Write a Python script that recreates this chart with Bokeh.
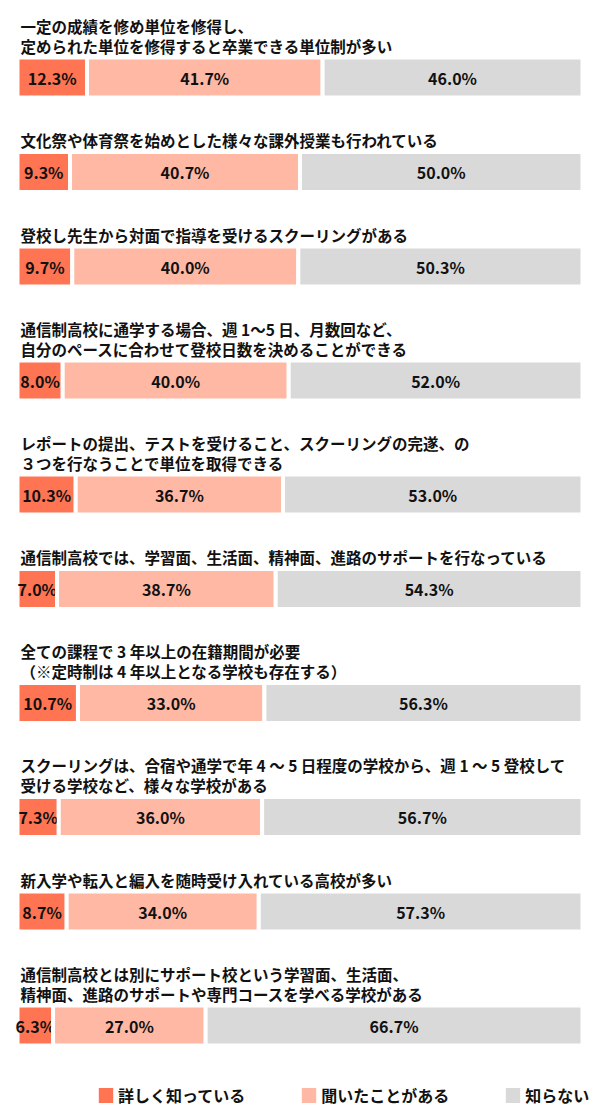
from bokeh.plotting import figure
from bokeh.models import Range1d, ColumnDataSource, Legend, LegendItem
from bokeh.core.properties import value
from bokeh.embed import file_html
from bokeh.resources import INLINE

# ---- data ----
titles = [
    ["一定の成績を修め単位を修得し、", "定められた単位を修得すると卒業できる単位制が多い"],
    ["文化祭や体育祭を始めとした様々な課外授業も行われている"],
    ["登校し先生から対面で指導を受けるスクーリングがある"],
    ["通信制高校に通学する場合、週 1～5 日、月数回など、", "自分のペースに合わせて登校日数を決めることができる"],
    ["レポートの提出、テストを受けること、スクーリングの完遂、の", "３つを行なうことで単位を取得できる"],
    ["通信制高校では、学習面、生活面、精神面、進路のサポートを行なっている"],
    ["全ての課程で 3 年以上の在籍期間が必要", "（※定時制は 4 年以上となる学校も存在する）"],
    ["スクーリングは、合宿や通学で年 4 ～ 5 日程度の学校から、週 1 ～ 5 登校して", "受ける学校など、様々な学校がある"],
    ["新入学や転入と編入を随時受け入れている高校が多い"],
    ["通信制高校とは別にサポート校という学習面、生活面、", "精神面、進路のサポートや専門コースを学べる学校がある"],
]
series_names = ["詳しく知っている", "聞いたことがある", "知らない"]
known = [12.3, 9.3, 9.7, 8.0, 10.3, 7.0, 10.7, 7.3, 8.7, 6.3]
heard = [41.7, 40.7, 40.0, 40.0, 36.7, 38.7, 33.0, 36.0, 34.0, 27.0]
unknown = [46.0, 50.0, 50.3, 52.0, 53.0, 54.3, 56.3, 56.7, 57.3, 66.7]
colors = ["#FF7452", "#FFB8A4", "#D9D9D9"]

# ---- layout (pixel units on y) ----
W, H = 600, 1120
X0_PX, PX_PER_PCT = 17, 5.65
BAR_H = 36
STROKE = 4
FIRST_TOP = 59
BASE_PITCH = 75
LINE_H = 20
TITLE_GAP = 14

tops = []
for i, t in enumerate(titles):
    if i == 0:
        tops.append(FIRST_TOP)
    else:
        tops.append(tops[-1] + BASE_PITCH + 19.5 * len(t))
centers = [t + BAR_H / 2 for t in tops]

p = figure(width=W, height=H,
           x_range=Range1d(-X0_PX / PX_PER_PCT, (W - X0_PX) / PX_PER_PCT),
           y_range=Range1d(H, 0),
           x_axis_type=None, y_axis_type=None,
           output_backend="svg", toolbar_location=None, min_border=0)
p.grid.visible = False
p.outline_line_color = None
p.background_fill_color = "white"
p.border_fill_color = "white"

vals = [known, heard, unknown]
left = [0.0] * len(known)
renderers = []
for s, (v, c) in enumerate(zip(vals, colors)):
    right = [l + x for l, x in zip(left, v)]
    mid = [(l + r) / 2 for l, r in zip(left, right)]
    src = ColumnDataSource(dict(y=centers, left=left, right=right, mid=mid,
                                lab=[f"{x:.1f}%" for x in v]))
    r = p.hbar(y="y", left="left", right="right", height=BAR_H + STROKE, source=src,
               fill_color=c, line_color="white", line_width=STROKE)
    renderers.append(r)
    p.text(x="mid", y="y", text="lab", source=src, text_align="center",
           text_baseline="middle", text_color="#111111",
           text_font=value("Noto Sans CJK JP"), text_font_style="bold",
           text_font_size="16px")
    left = right

# titles
tx, ty, tt = [], [], []
for i, t in enumerate(titles):
    n = len(t)
    for k, line in enumerate(t):
        tx.append(0)
        ty.append(tops[i] - TITLE_GAP - LINE_H * (n - 1 - k))
        tt.append(line)
p.text(x=tx, y=ty, text=tt, x_offset=3, text_align="left", text_baseline="middle",
       text_color="#111111", text_font=value("Noto Sans CJK JP"),
       text_font_style="bold", text_font_size="15.5px")

legend = Legend(items=[LegendItem(label=n, renderers=[r]) for n, r in zip(series_names, renderers)],
                orientation="horizontal", location=(94, 13),
                glyph_width=23, glyph_height=24, label_standoff=1, spacing=52,
                padding=0, margin=0, border_line_color=None, background_fill_alpha=0,
                label_text_font="Noto Sans CJK JP", label_text_font_style="bold",
                label_text_font_size="16px", label_text_color="#111111")
p.add_layout(legend)

open("out.html", "w").write(file_html(p, INLINE))
